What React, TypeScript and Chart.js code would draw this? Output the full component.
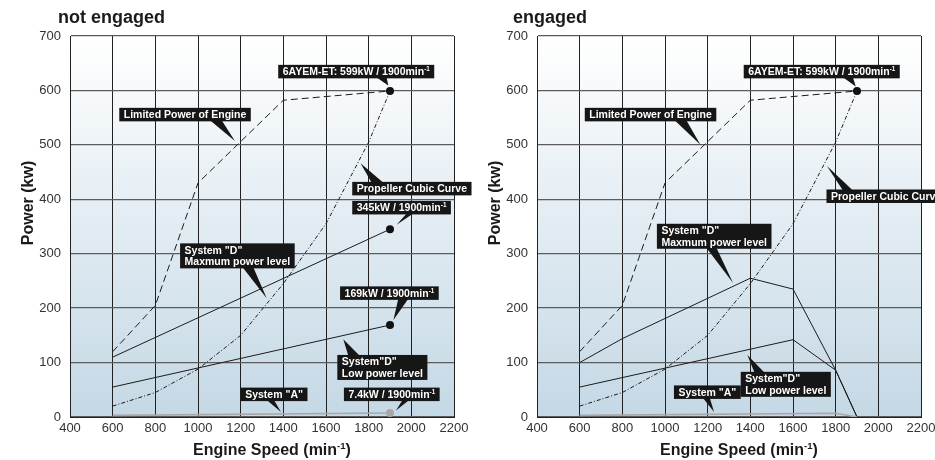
import React, { useEffect, useRef } from "react";
import { Chart, registerables } from "chart.js";

Chart.register(...registerables);

const FONT = "'Liberation Sans', Arial, Helvetica, sans-serif";

// ---------- data ----------
const xTickValues = [400, 600, 800, 1000, 1200, 1400, 1600, 1800, 2000, 2200];
const yTickValues = [0, 100, 200, 300, 400, 500, 600, 700];

const limitedSpeed = [600, 800, 1000, 1400, 1900];
const limitedPower = [120, 205, 430, 582, 599];

const propellerSpeed = [600, 800, 1000, 1200, 1400, 1600, 1800, 1900];
const propellerPower = [20, 45, 88, 150, 245, 355, 505, 599];

// not engaged
const maxNESpeed = [600, 1900];
const maxNEPower = [110, 345];
const lowNESpeed = [600, 1900];
const lowNEPower = [55, 169];
const sysANESpeed = [600, 1900];
const sysANEPower = [3, 7.4];

// engaged
const maxESpeed = [600, 800, 1400, 1600, 1800, 1900];
const maxEPower = [100, 144, 255, 235, 86, 0];
const lowESpeed = [600, 1600, 1800, 1900];
const lowEPower = [55, 142, 86, 0];
const sysAESpeed = [600, 1800, 1900];
const sysAEPower = [3, 7, 0];

const ratedSpeed = 1900;
const ratedPower = 599;
const maxRatedNE = 345;
const lowRatedNE = 169;
const sysARatedNE = 7.4;

type Ann = {
  lines: string[];
  bx: number; by: number;
  edge: "top" | "bottom";
  b1: number; b2: number;
  tx: number; ty: number;
};

const annNotEngaged: Ann[] = [
  { lines: ["6AYEM-ET: 599kW / 1900min^-1"], bx: 1376, by: 647, edge: "bottom", b1: 1836, b2: 1884, tx: 1892, ty: 609 },
  { lines: ["Limited Power of Engine"], bx: 631, by: 568, edge: "bottom", b1: 1056, b2: 1111, tx: 1173, ty: 507 },
  { lines: ["Propeller Cubic Curve"], bx: 1723, by: 432, edge: "top", b1: 1814, b2: 1869, tx: 1762, ty: 466 },
  { lines: ["345kW / 1900min^-1"], bx: 1723, by: 397, edge: "bottom", b1: 1978, b2: 2009, tx: 1931, ty: 353 },
  { lines: ['System "D"', "Maxmum power level"], bx: 916, by: 319, edge: "bottom", b1: 1209, b2: 1259, tx: 1322, ty: 218 },
  { lines: ["169kW / 1900min^-1"], bx: 1666, by: 240, edge: "bottom", b1: 1939, b2: 1986, tx: 1916, ty: 178 },
  { lines: ['System"D"', "Low power level"], bx: 1653, by: 114, edge: "top", b1: 1705, b2: 1759, tx: 1681, ty: 143 },
  { lines: ['System "A"'], bx: 1200, by: 54, edge: "bottom", b1: 1322, b2: 1356, tx: 1389, ty: 9 },
  { lines: ["7.4kW / 1900min^-1"], bx: 1684, by: 54, edge: "bottom", b1: 1959, b2: 1990, tx: 1928, ty: 12 },
];

const annEngaged: Ann[] = [
  { lines: ["6AYEM-ET: 599kW / 1900min^-1"], bx: 1369, by: 647, edge: "bottom", b1: 1834, b2: 1881, tx: 1894, ty: 607 },
  { lines: ["Limited Power of Engine"], bx: 624, by: 568, edge: "bottom", b1: 1045, b2: 1100, tx: 1166, ty: 500 },
  { lines: ["Propeller Cubic Curve"], bx: 1757, by: 418, edge: "top", b1: 1834, b2: 1881, tx: 1759, ty: 461 },
  { lines: ['System "D"', "Maxmum power level"], bx: 962, by: 355, edge: "bottom", b1: 1194, b2: 1241, tx: 1319, ty: 246 },
  { lines: ['System"D"', "Low power level"], bx: 1355, by: 83, edge: "top", b1: 1420, b2: 1467, tx: 1386, ty: 114 },
  { lines: ['System "A"'], bx: 1042, by: 58, edge: "bottom", b1: 1178, b2: 1210, tx: 1230, ty: 9 },
];

// ---------- helpers ----------
const pts = (xs: number[], ys: number[]) => xs.map((x, i) => ({ x, y: ys[i] }));

type Seg = { t: string; sup: boolean };
function segs(s: string): Seg[] {
  const out: Seg[] = [];
  const re = /\^([-0-9]+)/g;
  let last = 0;
  let m: RegExpExecArray | null;
  while ((m = re.exec(s))) {
    if (m.index > last) out.push({ t: s.slice(last, m.index), sup: false });
    out.push({ t: m[1], sup: true });
    last = m.index + m[0].length;
  }
  if (last < s.length) out.push({ t: s.slice(last), sup: false });
  return out;
}

function richWidth(ctx: CanvasRenderingContext2D, s: string, size: number) {
  let w = 0;
  for (const sg of segs(s)) {
    ctx.font = `bold ${sg.sup ? size * 0.6 : size}px ${FONT}`;
    w += ctx.measureText(sg.t).width;
  }
  return w;
}

function drawRich(ctx: CanvasRenderingContext2D, s: string, x: number, base: number, size: number, center = false) {
  let cx = center ? x - richWidth(ctx, s, size) / 2 : x;
  ctx.textAlign = "left";
  ctx.textBaseline = "alphabetic";
  for (const sg of segs(s)) {
    const fs = sg.sup ? size * 0.6 : size;
    ctx.font = `bold ${fs}px ${FONT}`;
    ctx.fillText(sg.t, cx, sg.sup ? base - size * 0.38 : base);
    cx += ctx.measureText(sg.t).width;
  }
}

function makeDecor(title: string, titleDx: number, anns: Ann[]) {
  return {
    id: "decor",
    beforeDraw(chart: any) {
      const { ctx, chartArea: a } = chart;
      const g = ctx.createLinearGradient(0, a.top, 0, a.bottom);
      g.addColorStop(0, "#ffffff");
      g.addColorStop(1, "#c4d8e5");
      ctx.save();
      ctx.fillStyle = g;
      ctx.fillRect(a.left, a.top, a.right - a.left, a.bottom - a.top);
      ctx.restore();
    },
    afterDraw(chart: any) {
      const { ctx, chartArea: a } = chart;
      const xs = chart.scales.x;
      const ys = chart.scales.y;
      ctx.save();
      // panel title
      ctx.fillStyle = "#1a1a1a";
      ctx.font = `bold 18px ${FONT}`;
      ctx.textAlign = "left";
      ctx.textBaseline = "alphabetic";
      ctx.fillText(title, a.left + titleDx, 22.5);
      // y title
      ctx.save();
      ctx.translate(a.left - 41, a.top + 167);
      ctx.rotate(-Math.PI / 2);
      ctx.font = `bold 16px ${FONT}`;
      ctx.textAlign = "center";
      ctx.textBaseline = "middle";
      ctx.fillText("Power (kw)", 0, 0);
      ctx.restore();
      // x title
      ctx.fillStyle = "#1a1a1a";
      drawRich(ctx, "Engine Speed (min^-1)", (a.left + a.right) / 2 + 10, 455, 16, true);

      // annotations
      const size = 10.5;
      const lineH = 11.5;
      for (const an of anns) {
        const w = Math.max(...an.lines.map((l) => richWidth(ctx, l, size))) + 9;
        const h = an.lines.length * lineH + 2;
        const L = xs.getPixelForValue(an.bx);
        const T = ys.getPixelForValue(an.by);
        const edgeY = an.edge === "top" ? T + 1 : T + h - 1;
        ctx.fillStyle = "#161616";
        ctx.beginPath();
        ctx.moveTo(xs.getPixelForValue(an.b1), edgeY);
        ctx.lineTo(xs.getPixelForValue(an.b2), edgeY);
        ctx.lineTo(xs.getPixelForValue(an.tx), ys.getPixelForValue(an.ty));
        ctx.closePath();
        ctx.fill();
        ctx.fillRect(L, T, w, h);
        ctx.fillStyle = "#ffffff";
        an.lines.forEach((l, i) => {
          drawRich(ctx, l, L + 4.5, T + 1 + lineH * (i + 0.5) + size * 0.36, size);
        });
      }
      ctx.restore();
    },
  };
}

function lineDs(data: { x: number; y: number }[], color: string, width: number, dash: number[] = []) {
  return {
    type: "scatter" as const,
    data,
    showLine: true,
    borderColor: color,
    backgroundColor: color,
    borderWidth: width,
    borderDash: dash,
    pointRadius: 0,
    tension: 0,
    fill: false,
  };
}

function dotDs(x: number, y: number, color: string) {
  return {
    type: "scatter" as const,
    data: [{ x, y }],
    showLine: false,
    pointRadius: 4,
    pointHoverRadius: 4,
    backgroundColor: color,
    borderColor: color,
    borderWidth: 0,
    clip: false as any,
  };
}

type PanelCfg = {
  width: number;
  title: string;
  titleDx: number;
  datasets: any[];
  anns: Ann[];
};

const plainLabel = (v: any) => String(v);

function buildConfig(cfg: PanelCfg): any {
  return {
    type: "scatter",
    data: { datasets: cfg.datasets },
    options: {
      responsive: false,
      animation: false,
      events: [],
      layout: { padding: { left: 0, top: 36, right: cfg.width - 454, bottom: 0 } },
      plugins: { legend: { display: false }, tooltip: { enabled: false }, title: { display: false } },
      scales: {
        x: {
          type: "linear",
          min: xTickValues[0],
          max: xTickValues[xTickValues.length - 1],
          afterBuildTicks: (s: any) => {
            s.ticks = xTickValues.map((v) => ({ value: v }));
          },
          afterFit: (s: any) => {
            s.height = 43;
          },
          ticks: { color: "#333", font: { size: 13, family: FONT }, padding: 4, maxRotation: 0, autoSkip: false, callback: plainLabel },
          grid: { color: "#202020", lineWidth: 1, drawTicks: false },
          border: { display: true, color: "#222", width: 1 },
        },
        y: {
          type: "linear",
          min: yTickValues[0],
          max: yTickValues[yTickValues.length - 1],
          afterBuildTicks: (s: any) => {
            s.ticks = yTickValues.map((v) => ({ value: v }));
          },
          afterFit: (s: any) => {
            s.width = 70;
          },
          ticks: { color: "#333", font: { size: 13, family: FONT }, padding: 9, callback: plainLabel },
          grid: { color: "#5c5c5c", lineWidth: 1.3, drawTicks: false },
          border: { display: true, color: "#222", width: 1 },
        },
      },
    },
    plugins: [makeDecor(cfg.title, cfg.titleDx, cfg.anns)],
  };
}

const DASH = [7, 4];
const DASHDOT = [4, 2, 1, 2];
const INK = "#1c1c1c";
const GRAY = "#a8a8a8";

const notEngagedCfg: PanelCfg = {
  width: 480,
  title: "not engaged",
  titleDx: -12,
  anns: annNotEngaged,
  datasets: [
    lineDs(pts(sysANESpeed, sysANEPower), GRAY, 1.6),
    lineDs(pts(limitedSpeed, limitedPower), INK, 1, DASH),
    lineDs(pts(propellerSpeed, propellerPower), INK, 1, DASHDOT),
    lineDs(pts(maxNESpeed, maxNEPower), INK, 1),
    lineDs(pts(lowNESpeed, lowNEPower), INK, 1),
    dotDs(ratedSpeed, ratedPower, "#111"),
    dotDs(ratedSpeed, maxRatedNE, "#111"),
    dotDs(ratedSpeed, lowRatedNE, "#111"),
    dotDs(ratedSpeed, sysARatedNE, GRAY),
  ],
};

const engagedCfg: PanelCfg = {
  width: 480,
  title: "engaged",
  titleDx: -24,
  anns: annEngaged,
  datasets: [
    lineDs(pts(sysAESpeed, sysAEPower), GRAY, 1.6),
    lineDs(pts(limitedSpeed, limitedPower), INK, 1, DASH),
    lineDs(pts(propellerSpeed, propellerPower), INK, 1, DASHDOT),
    lineDs(pts(maxESpeed, maxEPower), INK, 1),
    lineDs(pts(lowESpeed, lowEPower), INK, 1),
    dotDs(ratedSpeed, ratedPower, "#111"),
  ],
};

function Panel({ cfg, left }: { cfg: PanelCfg; left: number }) {
  const ref = useRef<HTMLCanvasElement>(null);
  useEffect(() => {
    if (!ref.current) return;
    const chart = new Chart(ref.current, buildConfig(cfg));
    return () => chart.destroy();
  }, [cfg]);
  return (
    <canvas
      ref={ref}
      width={cfg.width}
      height={460}
      style={{ position: "absolute", left, top: 0, width: cfg.width, height: 460 }}
    />
  );
}

export default function App() {
  return (
    <div style={{ position: "fixed", left: 0, top: 0, width: 935, height: 460, background: "#fff", overflow: "hidden" }}>
      <Panel cfg={notEngagedCfg} left={0} />
      <Panel cfg={engagedCfg} left={467} />
    </div>
  );
}
